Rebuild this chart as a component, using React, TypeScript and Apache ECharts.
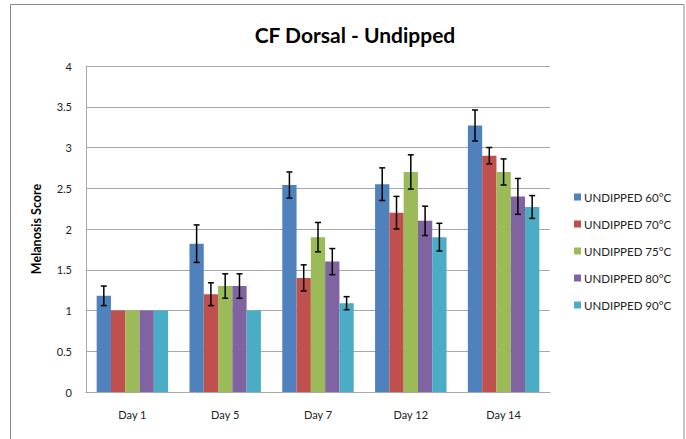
import React, { useEffect, useRef } from "react";
import * as echarts from "echarts";

const categories = ["Day 1", "Day 5", "Day 7", "Day 12", "Day 14"];
const seriesNames = [
  "UNDIPPED 60°C",
  "UNDIPPED 70°C",
  "UNDIPPED 75°C",
  "UNDIPPED 80°C",
  "UNDIPPED 90°C",
];
const colors = ["#4F81BD", "#C0504D", "#9BBB59", "#8064A2", "#4BACC6"];

const values60 = [1.18, 1.82, 2.54, 2.55, 3.27];
const values70 = [1.0, 1.2, 1.4, 2.2, 2.9];
const values75 = [1.0, 1.3, 1.9, 2.7, 2.7];
const values80 = [1.0, 1.3, 1.6, 2.1, 2.4];
const values90 = [1.0, 1.0, 1.09, 1.9, 2.27];

const err60 = [0.12, 0.23, 0.16, 0.2, 0.19];
const err70 = [0, 0.14, 0.16, 0.2, 0.1];
const err75 = [0, 0.15, 0.18, 0.21, 0.16];
const err80 = [0, 0.15, 0.16, 0.18, 0.22];
const err90 = [0, 0, 0.08, 0.17, 0.14];

const allValues = [values60, values70, values75, values80, values90];
const allErrors = [err60, err70, err75, err80, err90];

const yTicks = [0, 0.5, 1, 1.5, 2, 2.5, 3, 3.5, 4];

const FONT = "Lato, 'Noto Sans', sans-serif";
const CAT_GAP = 0.23;

export default function App() {
  const ref = useRef<HTMLDivElement>(null);
  useEffect(() => {
    document.body.style.margin = "0";
    const chart = echarts.init(ref.current!, null, { renderer: "svg" });

    const barSeries = seriesNames.map((name, i) => ({
      name,
      type: "bar",
      data: allValues[i],
      itemStyle: { color: colors[i] },
      barGap: "0%",
      barCategoryGap: CAT_GAP * 100 + "%",
      z: 2,
    }));

    const errorSeries = seriesNames.map((name, si) => ({
      name: name + " error",
      type: "custom",
      z: 5,
      silent: true,
      data: allValues[si].map((v, ci) => [ci, v, allErrors[si][ci]]),
      renderItem: (params: any, api: any) => {
        const ci = api.value(0);
        const v = api.value(1);
        const e = api.value(2);
        if (!e) return null;
        const bandW = api.size([1, 0])[0];
        const barW = (bandW * (1 - CAT_GAP)) / 5;
        const center = api.coord([ci, v]);
        const x = center[0] + (si - 2) * barW;
        const top = api.coord([ci, v + e])[1];
        const bot = api.coord([ci, v - e])[1];
        const cap = 3;
        const style = { stroke: "#000", lineWidth: 1.5 };
        return {
          type: "group",
          children: [
            { type: "line", shape: { x1: x, y1: top, x2: x, y2: bot }, style },
            { type: "line", shape: { x1: x - cap, y1: top, x2: x + cap, y2: top }, style },
            { type: "line", shape: { x1: x - cap, y1: bot, x2: x + cap, y2: bot }, style },
          ],
        };
      },
    }));

    chart.setOption({
      animation: false,
      backgroundColor: "#fff",
      title: {
        text: "CF Dorsal - Undipped",
        left: 350,
        textAlign: "center",
        top: 19,
        textStyle: { fontFamily: FONT, fontSize: 21, fontWeight: "bold", color: "#000" },
      },
      graphic: [
        {
          type: "rect",
          shape: { x: 10.5, y: 4.5, width: 673.5, height: 460 },
          style: { fill: "none", stroke: "#8a8a8a", lineWidth: 1 },
          silent: true,
        },
      ],
      legend: {
        data: seriesNames,
        orient: "vertical",
        left: 569,
        top: 185,
        itemWidth: 7,
        itemHeight: 7,
        itemGap: 13,
        icon: "rect",
        textStyle: { fontFamily: FONT, fontSize: 11.5, color: "#222", lineHeight: 14, padding: [0, 0, 0, -2] },
      },
      grid: { left: 86, right: 136, top: 66, bottom: 47, containLabel: false },
      xAxis: {
        type: "category",
        data: categories,
        axisLine: { lineStyle: { color: "#a8a8a8", width: 1 } },
        axisTick: { show: false },
        axisLabel: { fontFamily: FONT, fontSize: 11, color: "#222", margin: 17 },
      },
      yAxis: {
        type: "value",
        min: yTicks[0],
        max: yTicks[yTicks.length - 1],
        interval: 0.5,
        name: "Melanosis Score",
        nameLocation: "middle",
        nameGap: 43,
        nameTextStyle: { fontFamily: FONT, fontSize: 12.5, fontWeight: "bold", color: "#000" },
        axisLine: { show: true, lineStyle: { color: "#a8a8a8" } },
        axisTick: { show: false },
        axisLabel: { fontFamily: FONT, fontSize: 11, color: "#222", margin: 14 },
        splitLine: { lineStyle: { color: "#a8a8a8", width: 1 } },
      },
      series: [...barSeries, ...errorSeries],
    });
    return () => chart.dispose();
  }, []);
  return <div ref={ref} style={{ width: 686, height: 439 }} />;
}
